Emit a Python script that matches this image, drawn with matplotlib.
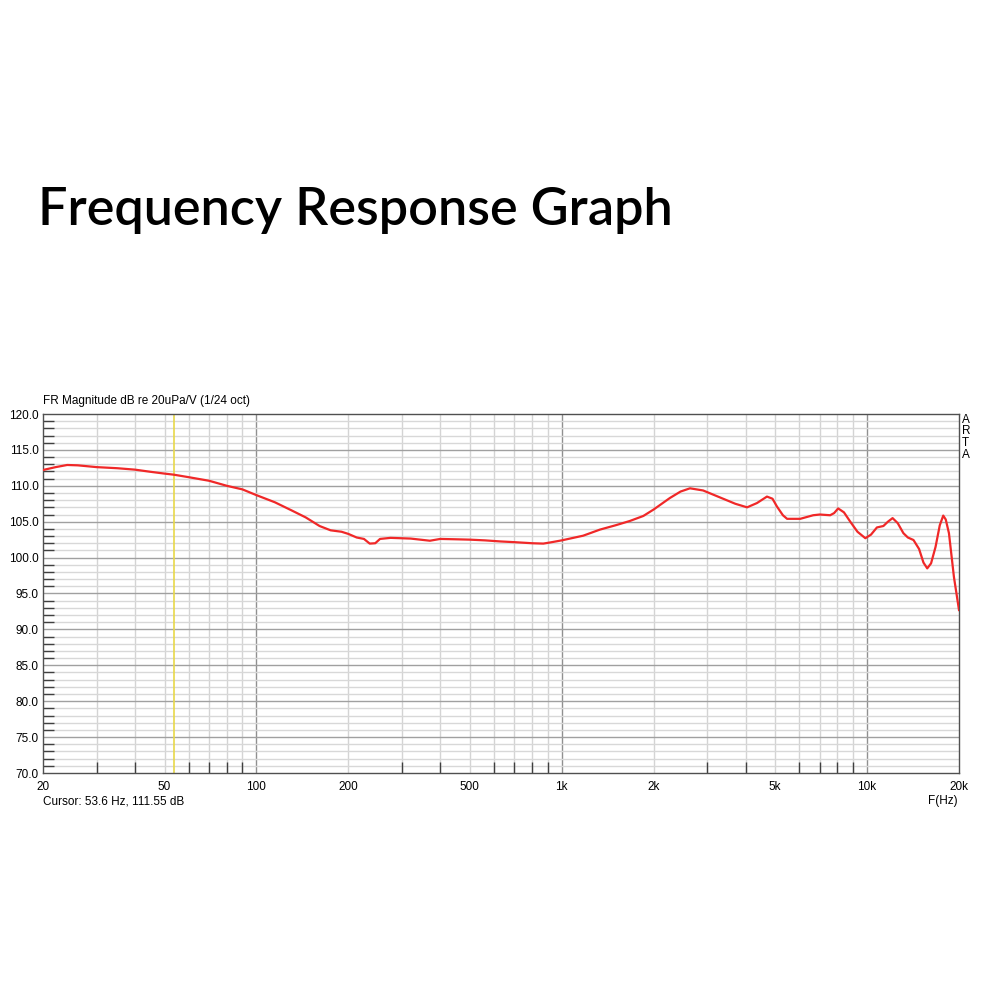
import numpy as np
import matplotlib
matplotlib.use("Agg")
import matplotlib.pyplot as plt
from matplotlib.ticker import FixedLocator, NullFormatter

# Data
freq_hz = [20, 22, 24, 26, 30, 35, 40, 45, 50, 53.6, 60, 70, 80, 90, 100,
           115, 130, 145, 161, 175, 190, 200, 213, 225, 235, 245, 254, 275,
           320, 370, 400, 450, 500, 560, 630, 700, 800, 870, 914, 1000,
           1175, 1334, 1500, 1671, 1850, 2000, 2260, 2450, 2630, 2904, 3377,
           3700, 4046, 4360, 4700, 4900, 5070, 5300, 5470, 6040, 6660, 7000,
           7570, 7800, 8040, 8400, 8810, 9300, 9870, 10300, 10770, 11310,
           11700, 12120, 12600, 13150, 13600, 14190, 14800, 15300, 15740,
           16200, 16760, 17300, 17760, 18100, 18540, 19250, 20000]
spl_db = [112.2, 112.6, 112.9, 112.85, 112.6, 112.45, 112.25, 111.95, 111.7,
          111.55, 111.2, 110.7, 110.0, 109.5, 108.7, 107.7, 106.6, 105.6,
          104.4, 103.8, 103.6, 103.3, 102.8, 102.6, 101.95, 102.0, 102.6,
          102.75, 102.65, 102.35, 102.6, 102.55, 102.5, 102.4, 102.25, 102.15,
          102.0, 101.95, 102.1, 102.4, 103.05, 103.9, 104.5, 105.1, 105.8,
          106.7, 108.3, 109.2, 109.65, 109.35, 108.2, 107.5, 107.0, 107.6,
          108.5, 108.2, 107.1, 105.9, 105.4, 105.4, 105.9, 106.0, 105.9,
          106.2, 106.85, 106.3, 105.0, 103.6, 102.7, 103.2, 104.2, 104.4,
          105.0, 105.5, 104.8, 103.4, 102.8, 102.45, 101.2, 99.3, 98.5, 99.2,
          101.5, 104.5, 105.85, 105.3, 103.4, 97.3, 92.7]

x_ticks = [20, 50, 100, 200, 500, 1000, 2000, 5000, 10000, 20000]
x_labels = ["20", "50", "100", "200", "500", "1k", "2k", "5k", "10k", "20k"]
y_ticks = [70, 75, 80, 85, 90, 95, 100, 105, 110, 115, 120]
cursor_hz = 53.6

plt.rcParams['font.family'] = ['Liberation Sans', 'DejaVu Sans']

fig = plt.figure(figsize=(10, 10), dpi=100)
fig.patch.set_facecolor("white")

fig.text(0.038, 0.789, "Frequency Response Graph", fontsize=37.5,
         family=["Lato", "DejaVu Sans"], fontweight="semibold", color="black",
         ha="left", va="center")

ax = fig.add_axes([0.043, 0.227, 0.916, 0.359])
ax.set_xscale("log")
ax.set_xlim(20, 20000)
ax.set_ylim(70, 120)

# grid lines
minor_f = [m * d for d in [10, 100, 1000, 10000] for m in range(2, 10)
           if 20 < m * d < 20000]
decades = [100, 1000, 10000]
for f in minor_f:
    ax.axvline(f, color="#d4d4d4", lw=1, zorder=1)
for f in decades:
    ax.axvline(f, color="#909090", lw=1, zorder=1)
for v in range(71, 120):
    if v % 5:
        ax.axhline(v, color="#d8d8d8", lw=1, zorder=1)
    else:
        ax.axhline(v, color="#a0a0a0", lw=1, zorder=1)

ax.axvline(cursor_hz, color="#e8d84a", lw=1.2, zorder=2)
ax.plot(freq_hz, spl_db, color="#f02828", lw=1.6, zorder=3)

ax.xaxis.set_major_locator(FixedLocator(x_ticks))
ax.set_xticklabels(x_labels)
ax.xaxis.set_minor_locator(FixedLocator(minor_f))
ax.xaxis.set_minor_formatter(NullFormatter())
ax.tick_params(axis="x", which="major", length=0, labelsize=8.5, pad=6)
ax.tick_params(axis="x", which="minor", direction="in", length=8,
               color="#404040", width=1)

ax.yaxis.set_major_locator(FixedLocator(y_ticks))
ax.set_yticklabels([f"{v:.1f}" for v in y_ticks])
ax.yaxis.set_minor_locator(FixedLocator([v for v in range(71, 120) if v % 5]))
ax.yaxis.set_minor_formatter(NullFormatter())
ax.tick_params(axis="y", which="major", length=0, labelsize=8.5, pad=3)
ax.tick_params(axis="y", which="minor", direction="in", length=8,
               color="#404040", width=1)

for s in ax.spines.values():
    s.set_color("#505050")
    s.set_linewidth(1)

fig.text(0.043, 0.593, "FR Magnitude dB re 20uPa/V (1/24 oct)", fontsize=8.5,
         ha="left", va="bottom")
fig.text(0.043, 0.199, "Cursor: 53.6 Hz, 111.55 dB", fontsize=8.5,
         ha="left", va="center")
fig.text(0.958, 0.199, "F(Hz)", fontsize=8.5, ha="right", va="center")
for i, ch in enumerate("ARTA"):
    fig.text(0.962, 0.580 - i * 0.0115, ch, fontsize=8.5, ha="left",
             va="center")

fig.savefig("out.png", dpi=100, facecolor="white")
